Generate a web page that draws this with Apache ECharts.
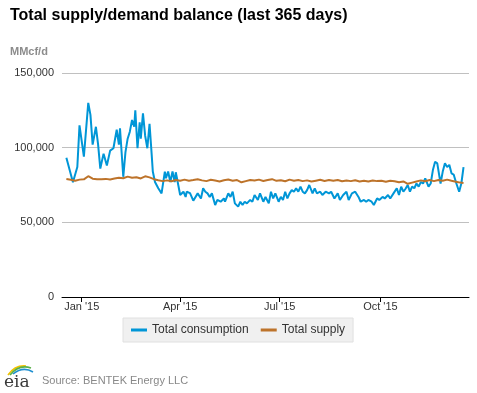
<!DOCTYPE html>
<html><head><meta charset="utf-8">
<script src="https://cdn.jsdelivr.net/npm/echarts@6/dist/echarts.min.js"></script>
<style>html,body{margin:0;padding:0;background:#fff}#c{width:477px;height:393px}</style>
</head><body><div id="c"></div>
<script>
// Day offsets are counted from 2015-01-01
var baseDate = '2015-01-01';
var consDays = [-14,-8,-4,-2,2,6,8,10,13,15,17,20,23,26,29,32,34,35,38,40,42,44,46,48,49,51,53,54,56,58,60,62,64,65,67,70,73,76,77,79,81,83,85,86,88,90,93,95,96,99,102,106,109,111,113,115,117,119,122,124,127,130,131,134,136,138,140,143,145,147,149,151,154,156,158,161,163,166,168,171,173,175,177,180,182,184,186,188,190,192,194,196,198,200,202,204,206,208,211,213,215,218,220,223,226,228,231,234,236,239,242,244,247,250,253,255,258,260,262,265,267,270,272,275,277,280,282,285,288,290,292,294,296,298,300,302,304,306,308,310,312,314,317,319,321,323,325,328,330,332,334,336,338,340,342,345,347,349];
var consValues = [93300,76800,87000,115000,94000,130000,122000,102000,114000,102000,86000,96000,88000,98000,99600,112000,102000,113000,80500,97000,106000,110700,118500,114000,125000,99600,117000,106000,123000,108000,99600,116000,95000,84000,77000,72800,69400,84000,79500,84000,77000,84000,77000,83500,76000,68300,70500,67000,70500,69500,64500,69400,66000,72800,70500,69400,67000,69400,61600,65000,63800,66000,63800,69400,67000,70500,62700,60500,63800,61600,63800,62700,65000,63800,68300,65000,69400,63800,67000,62700,70500,66000,69400,63800,67000,65000,70500,66000,69400,71600,70500,72800,70500,73900,70500,69400,71600,75000,69400,72800,69400,70500,68300,70500,69400,70500,66000,69400,65000,68300,70500,65000,69400,70500,67000,63800,65000,63800,65000,63800,61600,66000,65000,67000,66000,68300,66000,69400,72800,68300,73900,70500,72500,75000,70500,73900,72800,76000,73900,77000,76000,79500,73900,76000,85000,90600,89500,76000,84000,89500,87000,88500,82800,82000,77000,70500,76000,87000];
var supplyDays = [-14,-10,-6,-2,2,6,10,14,18,22,26,30,34,38,42,46,50,54,58,62,66,70,74,78,82,86,90,94,98,102,106,110,114,118,122,126,130,134,138,142,146,150,154,158,162,166,170,174,178,182,186,190,194,198,202,206,210,214,218,222,226,230,234,238,242,246,250,254,258,262,266,270,274,278,282,286,290,294,298,302,306,310,314,318,322,326,330,334,338,342,346,349];
var supplyValues = [79000,78500,77800,78600,78800,80900,79200,78800,78900,79100,78700,79300,79800,79500,80600,79900,80200,79400,80800,80100,78900,78200,77600,78100,77500,78400,77900,78600,77800,78300,78900,78100,77600,78500,78000,77400,78200,78700,77900,78300,76800,77600,78400,78000,78600,77700,78300,78900,77800,78200,77500,78600,77900,78400,77600,78100,77300,77900,78500,77700,78300,77800,78400,77500,78000,77600,78200,77400,77900,77300,78000,77600,77900,77200,77800,77500,76900,77400,75800,76600,77400,78100,77500,78300,77600,78400,77900,78600,77800,77200,76600,76400];
var tickDates = ['2015-01-01','2015-04-01','2015-07-01','2015-10-01'];
var tickLabels = ["Jan '15","Apr '15","Jul '15","Oct '15"];
var axisStart = '2014-12-14', axisEnd = '2015-12-21';
var yTicks = [0,50000,100000,150000];

var DAY = 86400000;
var base = new Date(baseDate + 'T00:00:00Z').getTime();
function ts(s){ return new Date(s + 'T00:00:00Z').getTime(); }
function pairs(days, vals){ return days.map(function(d,i){ return [base + d*DAY, vals[i]]; }); }
var tickTs = tickDates.map(ts);

var chart = echarts.init(document.getElementById('c'), null, {renderer:'canvas'});
chart.setOption({
  animation:false,
  textStyle:{fontFamily:'Liberation Sans, Arial, sans-serif'},
  title:{text:'Total supply/demand balance (last 365 days)', left:5, top:3,
    textStyle:{fontSize:16, fontWeight:'bold', color:'#000', fontFamily:'Liberation Sans, Arial, sans-serif'}},
  grid:{left:62, right:8, top:73, bottom:96},
  legend:{
    data:['Total consumption','Total supply'], left:123, top:318,
    backgroundColor:'#f0f0f0', borderColor:'#e0e0e0', borderWidth:1,
    padding:[6,8,6,8], itemGap:12, itemWidth:16, itemHeight:3, icon:'rect',
    textStyle:{fontSize:12, color:'#333'}
  },
  xAxis:{
    type:'value', min:ts(axisStart), max:ts(axisEnd),
    axisLine:{lineStyle:{color:'#000', width:1}},
    axisTick:{show:true, customValues:tickTs, length:5, lineStyle:{color:'#000'}},
    axisLabel:{customValues:tickTs, fontSize:11, color:'#333', margin:4,
      formatter:function(v){ var i=tickTs.indexOf(v); return i>=0?tickLabels[i]:''; }},
    splitLine:{show:false}
  },
  yAxis:{
    type:'value', min:yTicks[0], max:yTicks[yTicks.length-1], interval:50000,
    name:'MMcf/d', nameLocation:'end', nameGap:0,
    nameTextStyle:{fontSize:11, fontWeight:'bold', color:'#8c8c8c', align:'left', padding:[0,0,16,-52]},
    axisLine:{show:false}, axisTick:{show:false},
    axisLabel:{fontSize:11, color:'#333', margin:8,
      formatter:function(v){ return v.toLocaleString('en-US'); }},
    splitLine:{lineStyle:{color:'#c0c0c0', width:1}}
  },
  series:[
    {name:'Total consumption', type:'line', data:pairs(consDays, consValues), showSymbol:false, symbol:'none',
      lineStyle:{color:'#0096d7', width:2}, itemStyle:{color:'#0096d7'}, z:2},
    {name:'Total supply', type:'line', data:pairs(supplyDays, supplyValues), showSymbol:false, symbol:'none',
      lineStyle:{color:'#bd732a', width:2}, itemStyle:{color:'#bd732a'}, z:3}
  ],
  graphic:[
    {type:'bezierCurve', shape:{x1:8, y1:375, cpx1:15, cpy1:365, x2:26, y2:366}, style:{stroke:'#f2c200', lineWidth:1.6, fill:null}},
    {type:'bezierCurve', shape:{x1:10, y1:375, cpx1:19, cpy1:364, x2:31, y2:368}, style:{stroke:'#5bb04a', lineWidth:1.6, fill:null}},
    {type:'bezierCurve', shape:{x1:13, y1:374, cpx1:23, cpy1:366, x2:33, y2:372}, style:{stroke:'#1f8fd0', lineWidth:1.6, fill:null}},
    {type:'text', left:4, top:374, style:{text:'eia', font:'17px "DejaVu Serif", serif', fill:'#3a3a3a'}},
    {type:'text', left:42, top:375, style:{text:'Source: BENTEK Energy LLC', font:'11px "Liberation Sans", Arial, sans-serif', fill:'#888'}}
  ]
});
</script></body></html>
